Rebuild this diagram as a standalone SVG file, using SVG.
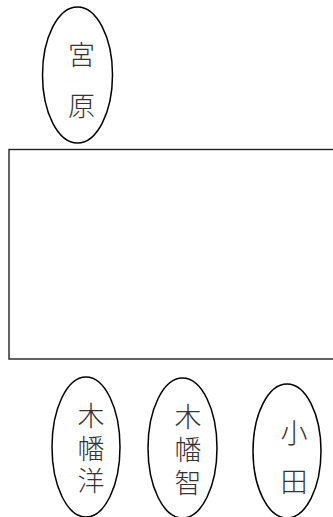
<svg xmlns="http://www.w3.org/2000/svg" width="333" height="517" viewBox="0 0 333 517">
<style>
.n{fill:#fff;stroke:#000;stroke-width:1.5}
.t{font-family:"Noto Sans CJK JP","Noto Sans CJK SC",sans-serif;font-size:27px;font-weight:300;fill:#333;writing-mode:vertical-rl}
</style>
<rect width="333" height="517" fill="#fff"/>
<g id="connectors"></g>
<g id="room">
<rect x="9" y="149.5" width="340" height="209.5" fill="#fff" stroke="#222" stroke-width="1.4"/>
</g>
<g id="miyahara">
<ellipse class="n" cx="77.5" cy="75" rx="35" ry="68"/>
<text class="t" x="81.5" y="41.5" style="letter-spacing:24px">宮原</text>
</g>
<g id="kobatayo">
<ellipse class="n" cx="86" cy="447" rx="34" ry="70"/>
<text class="t" x="91" y="402.5" style="letter-spacing:5.5px">木幡洋</text>
</g>
<g id="kobatasatoshi">
<ellipse class="n" cx="182.5" cy="448" rx="34.5" ry="70"/>
<text class="t" x="188" y="403.5" style="letter-spacing:6px">木幡智</text>
</g>
<g id="oda">
<ellipse class="n" cx="287" cy="451" rx="34" ry="67"/>
<text class="t" x="294" y="419.5" style="letter-spacing:22px">小田</text>
</g>
</svg>
